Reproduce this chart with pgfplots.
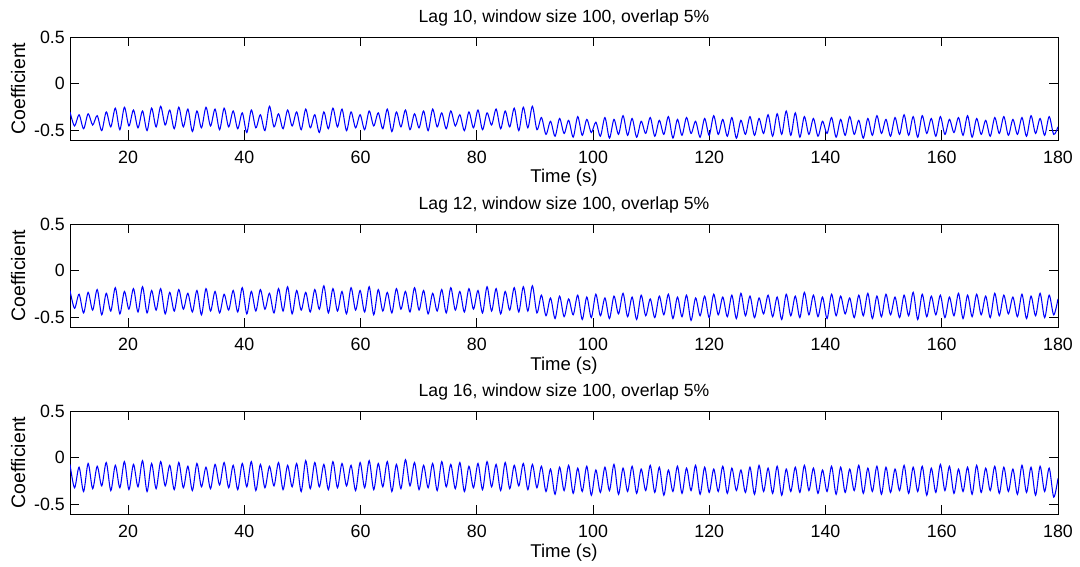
\documentclass[border=0pt]{standalone}
\usepackage{fontspec}
\setmainfont{Liberation Sans}
\usepackage{pgfplots}
\usepackage{pgfplotstable}
\pgfplotsset{compat=1.18}

% Coefficient traces for lags 10 (a), 12 (b) and 16 (c): successive peaks and troughs
\pgfplotstableread{
t a b c
10.00 -0.30 -0.21 -0.07
10.78 -0.45 -0.40 -0.32
11.56 -0.33 -0.25 -0.10
12.34 -0.48 -0.45 -0.36
13.12 -0.32 -0.23 -0.06
13.90 -0.44 -0.42 -0.33
14.68 -0.34 -0.20 -0.09
15.46 -0.50 -0.47 -0.30
16.24 -0.30 -0.24 -0.05
17.02 -0.46 -0.43 -0.35
17.80 -0.26 -0.18 -0.08
18.58 -0.49 -0.46 -0.32
19.36 -0.25 -0.22 -0.04
20.14 -0.45 -0.41 -0.34
20.92 -0.28 -0.19 -0.07
21.70 -0.47 -0.44 -0.31
22.48 -0.29 -0.17 -0.03
23.26 -0.50 -0.45 -0.36
24.04 -0.26 -0.21 -0.06
24.82 -0.46 -0.42 -0.33
25.60 -0.24 -0.19 -0.04
26.38 -0.44 -0.46 -0.30
27.16 -0.28 -0.23 -0.08
27.94 -0.48 -0.43 -0.34
28.72 -0.25 -0.20 -0.05
29.50 -0.46 -0.41 -0.32
30.28 -0.27 -0.24 -0.09
31.06 -0.51 -0.44 -0.35
31.84 -0.29 -0.21 -0.06
32.62 -0.47 -0.47 -0.31
33.40 -0.25 -0.19 -0.10
34.18 -0.45 -0.43 -0.33
34.96 -0.27 -0.22 -0.07
35.74 -0.49 -0.45 -0.29
36.52 -0.26 -0.25 -0.05
37.30 -0.46 -0.42 -0.32
38.08 -0.29 -0.21 -0.08
38.86 -0.48 -0.44 -0.34
39.64 -0.31 -0.18 -0.06
40.42 -0.52 -0.46 -0.31
41.20 -0.28 -0.22 -0.04
41.98 -0.47 -0.43 -0.35
42.76 -0.33 -0.20 -0.07
43.54 -0.50 -0.41 -0.32
44.32 -0.24 -0.24 -0.09
45.10 -0.46 -0.45 -0.30
45.88 -0.32 -0.19 -0.05
46.66 -0.48 -0.43 -0.34
47.44 -0.28 -0.17 -0.08
48.22 -0.45 -0.46 -0.31
49.00 -0.30 -0.21 -0.06
49.78 -0.49 -0.42 -0.36
50.56 -0.27 -0.23 -0.03
51.34 -0.47 -0.44 -0.33
52.12 -0.33 -0.20 -0.05
52.90 -0.52 -0.41 -0.31
53.68 -0.30 -0.16 -0.07
54.46 -0.48 -0.45 -0.34
55.24 -0.26 -0.19 -0.04
56.02 -0.46 -0.43 -0.32
56.80 -0.27 -0.22 -0.06
57.58 -0.50 -0.46 -0.30
58.36 -0.30 -0.18 -0.08
59.14 -0.47 -0.42 -0.35
59.92 -0.33 -0.21 -0.05
60.70 -0.49 -0.44 -0.32
61.48 -0.29 -0.17 -0.03
62.26 -0.45 -0.47 -0.34
63.04 -0.31 -0.20 -0.06
63.82 -0.48 -0.43 -0.31
64.60 -0.27 -0.23 -0.04
65.38 -0.51 -0.45 -0.36
66.16 -0.30 -0.19 -0.07
66.94 -0.46 -0.41 -0.33
67.72 -0.28 -0.22 -0.02
68.50 -0.49 -0.44 -0.30
69.28 -0.32 -0.18 -0.05
70.06 -0.47 -0.42 -0.34
70.84 -0.29 -0.21 -0.08
71.62 -0.50 -0.46 -0.32
72.40 -0.27 -0.24 -0.06
73.18 -0.46 -0.43 -0.35
73.96 -0.31 -0.20 -0.04
74.74 -0.48 -0.45 -0.31
75.52 -0.29 -0.18 -0.07
76.30 -0.45 -0.42 -0.33
77.08 -0.33 -0.22 -0.05
77.86 -0.50 -0.44 -0.36
78.64 -0.30 -0.19 -0.09
79.42 -0.47 -0.41 -0.32
80.20 -0.28 -0.21 -0.06
80.98 -0.49 -0.45 -0.34
81.76 -0.31 -0.17 -0.04
82.54 -0.44 -0.43 -0.31
83.32 -0.27 -0.19 -0.07
84.10 -0.48 -0.46 -0.35
84.88 -0.29 -0.22 -0.05
85.66 -0.46 -0.42 -0.33
86.44 -0.26 -0.18 -0.08
87.22 -0.50 -0.44 -0.30
88.00 -0.25 -0.17 -0.06
88.78 -0.47 -0.43 -0.34
89.56 -0.24 -0.16 -0.07
90.34 -0.49 -0.45 -0.32
91.12 -0.36 -0.26 -0.09
91.90 -0.54 -0.48 -0.36
92.68 -0.40 -0.29 -0.12
93.46 -0.56 -0.51 -0.39
94.24 -0.37 -0.27 -0.10
95.02 -0.53 -0.49 -0.35
95.80 -0.39 -0.30 -0.08
96.58 -0.57 -0.47 -0.38
97.36 -0.35 -0.26 -0.11
98.14 -0.55 -0.52 -0.36
98.92 -0.38 -0.28 -0.09
99.70 -0.52 -0.50 -0.40
100.48 -0.41 -0.25 -0.13
101.26 -0.56 -0.48 -0.37
102.04 -0.36 -0.29 -0.10
102.82 -0.58 -0.51 -0.35
103.60 -0.38 -0.27 -0.07
104.38 -0.54 -0.46 -0.39
105.16 -0.34 -0.24 -0.11
105.94 -0.55 -0.49 -0.36
106.72 -0.37 -0.28 -0.09
107.50 -0.57 -0.52 -0.38
108.28 -0.40 -0.26 -0.12
109.06 -0.53 -0.48 -0.35
109.84 -0.36 -0.30 -0.08
110.62 -0.56 -0.50 -0.37
111.40 -0.39 -0.27 -0.10
112.18 -0.54 -0.47 -0.40
112.96 -0.35 -0.25 -0.13
113.74 -0.58 -0.51 -0.36
114.52 -0.38 -0.28 -0.09
115.30 -0.55 -0.49 -0.38
116.08 -0.36 -0.26 -0.11
116.86 -0.53 -0.53 -0.35
117.64 -0.40 -0.29 -0.08
118.42 -0.57 -0.48 -0.39
119.20 -0.37 -0.27 -0.10
119.98 -0.55 -0.50 -0.37
120.76 -0.34 -0.25 -0.12
121.54 -0.54 -0.47 -0.36
122.32 -0.38 -0.28 -0.09
123.10 -0.56 -0.49 -0.38
123.88 -0.36 -0.26 -0.11
124.66 -0.58 -0.51 -0.35
125.44 -0.39 -0.24 -0.13
126.22 -0.54 -0.48 -0.37
127.00 -0.35 -0.27 -0.10
127.78 -0.55 -0.50 -0.39
128.56 -0.37 -0.29 -0.08
129.34 -0.53 -0.46 -0.36
130.12 -0.33 -0.26 -0.11
130.90 -0.56 -0.49 -0.38
131.68 -0.32 -0.28 -0.09
132.46 -0.54 -0.52 -0.40
133.24 -0.29 -0.25 -0.12
134.02 -0.55 -0.48 -0.36
134.80 -0.31 -0.27 -0.10
135.58 -0.57 -0.50 -0.37
136.36 -0.35 -0.23 -0.08
137.14 -0.54 -0.47 -0.35
137.92 -0.37 -0.26 -0.11
138.70 -0.56 -0.49 -0.38
139.48 -0.40 -0.28 -0.13
140.26 -0.53 -0.51 -0.36
141.04 -0.36 -0.25 -0.09
141.82 -0.57 -0.48 -0.39
142.60 -0.38 -0.27 -0.10
143.38 -0.55 -0.46 -0.37
144.16 -0.35 -0.29 -0.12
144.94 -0.54 -0.50 -0.35
145.72 -0.39 -0.26 -0.08
146.50 -0.58 -0.48 -0.38
147.28 -0.37 -0.24 -0.11
148.06 -0.55 -0.51 -0.36
148.84 -0.34 -0.27 -0.09
149.62 -0.53 -0.49 -0.39
150.40 -0.38 -0.25 -0.10
151.18 -0.56 -0.47 -0.37
151.96 -0.36 -0.28 -0.12
152.74 -0.54 -0.50 -0.35
153.52 -0.33 -0.26 -0.08
154.30 -0.55 -0.48 -0.38
155.08 -0.35 -0.23 -0.10
155.86 -0.57 -0.52 -0.36
156.64 -0.34 -0.25 -0.09
157.42 -0.53 -0.49 -0.40
158.20 -0.37 -0.27 -0.11
158.98 -0.56 -0.47 -0.37
159.76 -0.35 -0.26 -0.07
160.54 -0.54 -0.50 -0.35
161.32 -0.38 -0.28 -0.09
162.10 -0.52 -0.48 -0.38
162.88 -0.36 -0.24 -0.12
163.66 -0.55 -0.51 -0.36
164.44 -0.34 -0.26 -0.10
165.22 -0.57 -0.49 -0.39
166.00 -0.37 -0.25 -0.08
166.78 -0.54 -0.47 -0.37
167.56 -0.39 -0.27 -0.11
168.34 -0.56 -0.50 -0.35
169.12 -0.36 -0.24 -0.09
169.90 -0.53 -0.48 -0.38
170.68 -0.35 -0.26 -0.10
171.46 -0.55 -0.46 -0.36
172.24 -0.38 -0.28 -0.12
173.02 -0.54 -0.49 -0.39
173.80 -0.36 -0.25 -0.08
174.58 -0.56 -0.51 -0.37
175.36 -0.34 -0.27 -0.10
176.14 -0.53 -0.48 -0.40
176.92 -0.37 -0.24 -0.09
177.70 -0.55 -0.50 -0.36
178.48 -0.35 -0.26 -0.11
179.26 -0.54 -0.47 -0.42
180.00 -0.46 -0.30 -0.22
}\coeffdata

\pgfplotsset{
  coefpanel/.style={
    anchor=south west,
    scale only axis, width=988pt, height=103pt,
    xmin=10, xmax=180, ymin=-0.6, ymax=0.5,
    xtick={20,40,...,180},
    xticklabels={20,40,60,80,100,120,140,160,180},
    ytick={-0.5,0,0.5},
    yticklabels={-0.5,0,0.5},
    tick align=inside,
    major tick length=9.5pt,
    axis line style={black, line width=0.8pt},
    major tick style={black, line width=0.8pt},
    tick label style={font=\fontsize{17.8}{21}\selectfont, inner sep=0pt},
    xticklabel style={yshift=-11.3pt},
    yticklabel style={xshift=-5pt},
    every axis x label/.style={at={(axis description cs:0.5,0)}, anchor=base,
      yshift=-43pt, font=\fontsize{18.5}{22}\selectfont},
    every axis y label/.style={at={(axis description cs:-0.0526,0.5)}, rotate=90,
      anchor=center, font=\fontsize{19.5}{23}\selectfont},
    every axis title/.style={at={(axis description cs:0.5,1)}, anchor=base,
      yshift=14.3pt, font=\fontsize{17.6}{21}\selectfont},
    xlabel={Time (s)},
    ylabel={Coefficient},
  },
  trace/.style={color=blue, line width=1.05pt, smooth, tension=0.5},
}

\begin{document}
\begin{tikzpicture}
\path[use as bounding box] (0,0) rectangle (1080pt,566pt);

\begin{axis}[coefpanel, at={(70pt,426pt)},
  title={Lag 10, window size 100, overlap 5\%}]
\addplot[trace] table[x=t, y=a] {\coeffdata};
\end{axis}

\begin{axis}[coefpanel, at={(70pt,239pt)},
  title={Lag 12, window size 100, overlap 5\%}]
\addplot[trace] table[x=t, y=b] {\coeffdata};
\end{axis}

\begin{axis}[coefpanel, at={(70pt,52pt)},
  title={Lag 16, window size 100, overlap 5\%}]
\addplot[trace] table[x=t, y=c] {\coeffdata};
\end{axis}
\end{tikzpicture}
\end{document}
